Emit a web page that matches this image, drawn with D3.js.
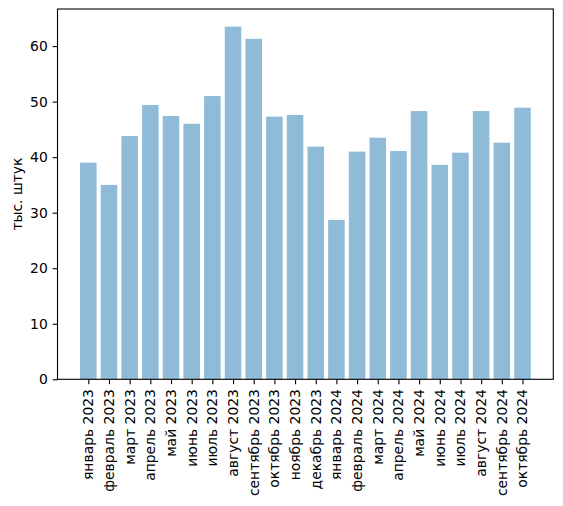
<!DOCTYPE html>
<html>
<head>
<meta charset="utf-8">
<script src="https://cdn.jsdelivr.net/npm/d3@7"></script>
<style>
  body { margin: 0; background: #fff; }
  text { font-family: "DejaVu Sans", sans-serif; }
</style>
</head>
<body>
<div id="container"></div>
<script>
/* DATA */
const months = ["январь 2023","февраль 2023","март 2023","апрель 2023","май 2023","июнь 2023",
  "июль 2023","август 2023","сентябрь 2023","октябрь 2023","ноябрь 2023","декабрь 2023",
  "январь 2024","февраль 2024","март 2024","апрель 2024","май 2024","июнь 2024",
  "июль 2024","август 2024","сентябрь 2024","октябрь 2024"];
const values = [39.0, 35.0, 43.8, 49.4, 47.4, 46.0, 51.0, 63.5, 61.3, 47.3, 47.6, 41.9,
  28.7, 41.0, 43.5, 41.1, 48.3, 38.6, 40.8, 48.3, 42.6, 48.9];
const yTicks = [0, 10, 20, 30, 40, 50, 60];
const yLabel = "тыс. штук";

/* CONSTANTS */
const width = 563, height = 506;
const margin = {top: 9, bottom: 379.3, left: 57.5, right: 553.3};
const tickLen = 4.86, fontSize = 13.9;

const svg = d3.select("#container").append("svg")
  .attr("width", width).attr("height", height);

// matplotlib style padding: bars span i-0.4..i+0.4, 5% margins
const n = values.length;
const lo = -0.4, hi = n - 1 + 0.4, pad = (hi - lo) * 0.05;
const xScale = d3.scaleLinear()
  .domain([lo - pad, hi + pad])
  .range([margin.left, margin.right]);
const yScale = d3.scaleLinear()
  .domain([0, d3.max(values) * 1.05])
  .range([margin.bottom, margin.top]);

// bars
svg.selectAll("rect.bar")
  .data(values)
  .join("rect")
  .attr("class", "bar")
  .attr("x", (d, i) => xScale(i - 0.4))
  .attr("width", (d, i) => xScale(i + 0.4) - xScale(i - 0.4))
  .attr("y", d => yScale(d))
  .attr("height", d => yScale(0) - yScale(d))
  .attr("fill", "#1f77b4")
  .attr("fill-opacity", 0.5);

// y axis
const yAxis = d3.axisLeft(yScale)
  .tickValues(yTicks)
  .tickSize(tickLen)
  .tickPadding(4.9)
  .tickFormat(d3.format("d"));
const yG = svg.append("g")
  .attr("transform", `translate(${margin.left},0)`)
  .call(yAxis);
yG.select(".domain").remove();
yG.selectAll("line").attr("stroke", "#000").attr("stroke-width", 1.1);
yG.selectAll("text").attr("font-size", fontSize).attr("fill", "#000")
  .attr("font-family", "DejaVu Sans");

// x axis
const xAxis = d3.axisBottom(xScale)
  .tickValues(d3.range(n))
  .tickSize(tickLen)
  .tickFormat(i => months[i]);
const xG = svg.append("g")
  .attr("transform", `translate(0,${margin.bottom})`)
  .call(xAxis);
xG.select(".domain").remove();
xG.selectAll("line").attr("stroke", "#000").attr("stroke-width", 1.1);
xG.selectAll("text")
  .attr("font-size", fontSize).attr("fill", "#000")
  .attr("font-family", "DejaVu Sans")
  .attr("transform", `translate(0,${tickLen + 4.9}) rotate(-90)`)
  .attr("x", 0).attr("y", 0).attr("dy", "0.32em")
  .attr("text-anchor", "end");

// spines
svg.append("rect")
  .attr("x", margin.left).attr("y", margin.top)
  .attr("width", margin.right - margin.left)
  .attr("height", margin.bottom - margin.top)
  .attr("fill", "none").attr("stroke", "#000").attr("stroke-width", 1.1);

// y label
svg.append("text")
  .attr("transform", `translate(22,${(margin.top + margin.bottom) / 2}) rotate(-90)`)
  .attr("text-anchor", "middle")
  .attr("font-size", fontSize)
  .text(yLabel);
</script>
</body>
</html>
